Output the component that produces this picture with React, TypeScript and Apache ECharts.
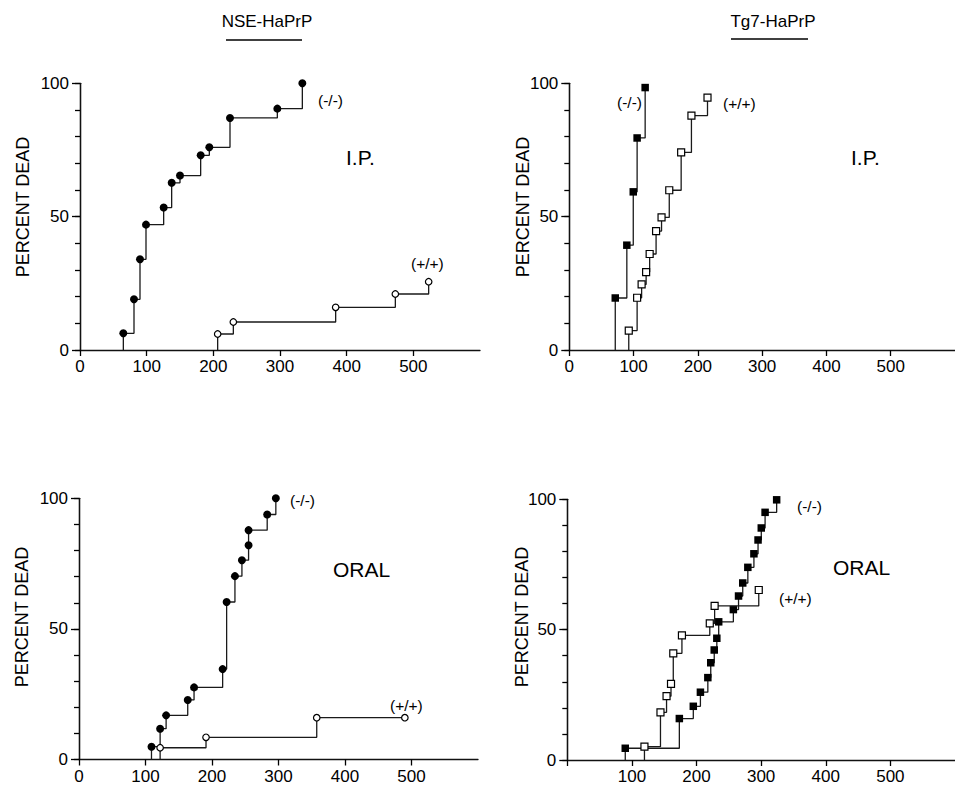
import React, { useEffect, useRef } from "react";
import * as echarts from "echarts";

// ---- Data (days after inoculation, percent dead) ----
// I.P. — NSE-HaPrP
const ipNseKoDays = [65, 81, 90, 99, 125.5, 137.5, 150, 181, 194, 225, 296, 333.5];
const ipNseKoPct = [6.25, 19, 34, 47, 53.4, 62.7, 65.4, 73, 76, 87, 90.5, 100];
const ipNseWtDays = [206.5, 230, 383.5, 473, 523];
const ipNseWtPct = [6, 10.5, 16, 21, 25.6];
// I.P. — Tg7-HaPrP
const ipTg7KoDays = [71.5, 89.5, 99.5, 105.5, 118];
const ipTg7KoPct = [19.5, 39.3, 59.3, 79.5, 98.4];
const ipTg7WtDays = [92.5, 105.5, 112.5, 119.5, 125, 135, 143.5, 155.5, 174, 190, 215];
const ipTg7WtPct = [7.3, 19.6, 24.6, 29.2, 36, 44.6, 49.7, 59.9, 74.1, 87.9, 94.6];
// ORAL — NSE-HaPrP
const oralNseKoDays = [109, 122, 131, 163.5, 173, 216, 222, 234.5, 245, 255, 255, 283, 296];
const oralNseKoPct = [4.9, 11.8, 16.9, 22.8, 27.6, 34.6, 60.3, 70.2, 76.3, 82, 87.8, 93.8, 100];
const oralNseWtDays = [122, 191, 357.5, 490];
const oralNseWtPct = [4.5, 8.5, 16, 16];
// ORAL — Tg7-HaPrP
const oralTg7KoDays = [89.7, 173.4, 195, 206, 217.5, 222, 227.4, 231.4, 234.3, 257, 265, 271.5, 279.4, 288.8, 295.2, 300.2, 306.1, 324];
const oralTg7KoPct = [4.5, 15.9, 20.6, 26, 31.6, 37.3, 42.2, 46.7, 53, 57.7, 62.9, 67.9, 73.9, 79.1, 84.4, 89, 95, 99.8];
const oralTg7WtDays = [119.4, 144.2, 153.6, 160.5, 164, 177.4, 220.5, 228, 296.3];
const oralTg7WtPct = [5.1, 18.3, 24.5, 29.2, 40.9, 47.8, 52.4, 59.1, 65.2];

// tick values / labels
const xTicksFull = [0, 100, 200, 300, 400, 500];
const xTicksNoZero = [100, 200, 300, 400, 500];
const yMajorTicks = [0, 50, 100];
const yMinorTicks = [0, 10, 20, 30, 40, 50, 60, 70, 80, 90, 100];

const FONT = "'Liberation Sans', Arial, Helvetica, sans-serif";
const INK = "#111";

function buildData(days: number[], pct: number[]) {
  const out: any[] = [{ value: [days[0], 0], symbol: "none" }];
  days.forEach((d, i) => out.push([d, pct[i]]));
  return out;
}

function makeX(gridIndex: number, labels: number[]) {
  return {
    gridIndex,
    type: "value",
    min: 0,
    max: 600,
    interval: 100,
    axisLine: { show: true, onZero: false, lineStyle: { color: INK, width: 1.3 } },
    axisTick: { show: true, length: 6, customValues: xTicksFull, lineStyle: { color: "#000", width: 1.3 } },
    axisLabel: { customValues: labels, fontSize: 17, fontFamily: FONT, color: "#000", margin: 8 },
    splitLine: { show: false },
  };
}

// main y axis: labels 0/50/100, short ticks every 10 %
function makeY(gridIndex: number) {
  return {
    gridIndex,
    type: "value",
    position: "left",
    min: 0,
    max: 100,
    interval: 10,
    axisLine: { show: true, onZero: false, lineStyle: { color: INK, width: 1.3 } },
    axisTick: { show: true, length: 5, customValues: yMinorTicks, lineStyle: { color: "#000", width: 1.3 } },
    axisLabel: { customValues: yMajorTicks, fontSize: 17, fontFamily: FONT, color: "#000", margin: 11 },
    splitLine: { show: false },
  };
}

// overlay y axis: longer ticks at 0 / 50 / 100
function makeYMajor(gridIndex: number) {
  return {
    gridIndex,
    type: "value",
    position: "left",
    offset: 0,
    min: 0,
    max: 100,
    interval: 50,
    axisLine: { show: true, onZero: false, lineStyle: { color: INK, width: 1.3 } },
    axisTick: { show: true, length: 8, customValues: yMajorTicks, lineStyle: { color: "#000", width: 1.3 } },
    axisLabel: { show: false },
    splitLine: { show: false },
  };
}

function makeSeries(name: string, idx: number, days: number[], pct: number[], symbol: string, filled: boolean, size: number) {
  return {
    name,
    type: "line",
    xAxisIndex: idx,
    yAxisIndex: idx,
    step: "end",
    showAllSymbol: true,
    symbol,
    symbolSize: size,
    data: buildData(days, pct),
    lineStyle: { color: "#1a1a1a", width: 1.3 },
    itemStyle: filled
      ? { color: "#000", borderColor: "#000", borderWidth: 0 }
      : { color: "#fff", borderColor: "#000", borderWidth: 1.2 },
    z: filled ? 3 : 4,
  };
}

function txt(text: string, x: number, y: number, size: number, align = "left", rotation = 0) {
  return {
    type: "text",
    x,
    y,
    rotation,
    style: {
      text,
      fontSize: size,
      fontFamily: FONT,
      fill: "#000",
      align,
      textAlign: align,
      verticalAlign: "middle",
      textVerticalAlign: "middle",
    },
  };
}

function uline(x1: number, x2: number, y: number) {
  return { type: "line", shape: { x1, y1: y, x2, y2: y }, style: { stroke: "#000", lineWidth: 1.3 } };
}

export default function App() {
  const ref = useRef<HTMLDivElement>(null);
  useEffect(() => {
    if (!ref.current) return;
    const chart = echarts.init(ref.current, null, { renderer: "svg" });
    const option: any = {
      animation: false,
      backgroundColor: "#fff",
      grid: [
        { left: 80, top: 83.3, right: 475, bottom: 440 },
        { left: 569.3, top: 83.3, right: -14.3, bottom: 440 },
        { left: 79, top: 498.3, right: 477, bottom: 30.5 },
        { left: 567.3, top: 499.3, right: -16.1, bottom: 30 },
      ],
      xAxis: [makeX(0, xTicksFull), makeX(1, xTicksFull), makeX(2, xTicksFull), makeX(3, xTicksNoZero)],
      yAxis: [makeY(0), makeY(1), makeY(2), makeY(3), makeYMajor(0), makeYMajor(1), makeYMajor(2), makeYMajor(3)],
      series: [
        makeSeries("NSE I.P. (-/-)", 0, ipNseKoDays, ipNseKoPct, "circle", true, 8),
        makeSeries("NSE I.P. (+/+)", 0, ipNseWtDays, ipNseWtPct, "circle", false, 6.5),
        makeSeries("Tg7 I.P. (-/-)", 1, ipTg7KoDays, ipTg7KoPct, "rect", true, 7.5),
        makeSeries("Tg7 I.P. (+/+)", 1, ipTg7WtDays, ipTg7WtPct, "rect", false, 7),
        makeSeries("NSE ORAL (-/-)", 2, oralNseKoDays, oralNseKoPct, "circle", true, 8),
        makeSeries("NSE ORAL (+/+)", 2, oralNseWtDays, oralNseWtPct, "circle", false, 6.5),
        makeSeries("Tg7 ORAL (-/-)", 3, oralTg7KoDays, oralTg7KoPct, "rect", true, 7.5),
        makeSeries("Tg7 ORAL (+/+)", 3, oralTg7WtDays, oralTg7WtPct, "rect", false, 7),
      ],
      graphic: [
        txt("NSE-HaPrP", 267, 21, 17, "center"),
        uline(226, 302, 40),
        txt("Tg7-HaPrP", 773, 21, 17, "center"),
        uline(731, 808, 39),
        txt("PERCENT DEAD", 23, 207, 18, "center", Math.PI / 2),
        txt("PERCENT DEAD", 523, 207, 18, "center", Math.PI / 2),
        txt("PERCENT DEAD", 22, 617, 18, "center", Math.PI / 2),
        txt("PERCENT DEAD", 522, 617, 18, "center", Math.PI / 2),
        txt("(-/-)", 318, 100, 15.5),
        txt("(+/+)", 411, 263, 15.5),
        txt("I.P.", 346, 157, 21),
        txt("(-/-)", 617, 102, 15.5),
        txt("(+/+)", 723, 103, 15.5),
        txt("I.P.", 851, 157, 21),
        txt("(-/-)", 290, 500, 15.5),
        txt("(+/+)", 390, 705, 15.5),
        txt("ORAL", 333, 569, 21),
        txt("(-/-)", 797, 506, 15.5),
        txt("(+/+)", 779, 598, 15.5),
        txt("ORAL", 833, 567, 21),
      ],
    };
    chart.setOption(option);
    return () => chart.dispose();
  }, []);
  return (
    <div
      ref={ref}
      style={{ position: "fixed", left: 0, top: 0, width: 955, height: 790, background: "#fff" }}
    />
  );
}
